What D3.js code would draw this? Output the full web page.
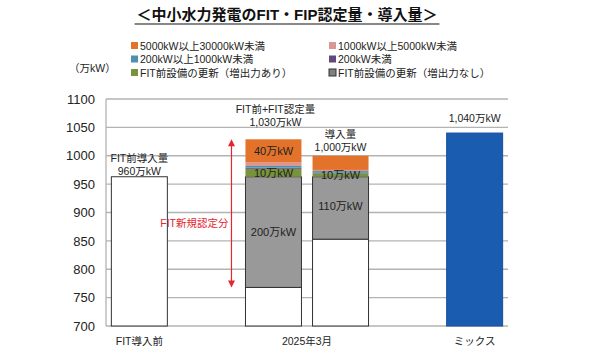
<!DOCTYPE html>
<html>
<head>
<meta charset="utf-8">
<script src="https://cdn.jsdelivr.net/npm/d3@7"></script>
<style>
  body { margin: 0; background: #fff; }
  svg { font-family: "Liberation Sans", "Noto Sans CJK JP", sans-serif; }
</style>
</head>
<body>
<svg id="chart" width="590" height="354"></svg>
<script>
// bar slots (empty ones are spacers so the 2025 pair sits together)
var slots = ["pre", "gapA", "cert", "intro", "gapB", "mix"];
var barSlots = ["pre", "cert", "intro", "mix"];

// stacked values per bar, in barSlots order (万kW)
var existing        = [963, 768, 853, 0];
var renewNoIncrease = [0, 195, 110, 0];
var renewIncrease   = [0, 14, 6, 0];
var under200        = [0, 2, 1, 0];
var from200to1000   = [0, 3, 3, 0];
var from1000to5000  = [0, 6, 2, 0];
var from5000to30000 = [0, 41, 25, 0];
var mixTarget       = [0, 0, 0, 1040];

var seriesKeys = ["existing", "renewNoIncrease", "renewIncrease", "under200",
                  "from200to1000", "from1000to5000", "from5000to30000", "mixTarget"];
var seriesColors = {
  existing: "#ffffff", renewNoIncrease: "#999999", renewIncrease: "#77933c",
  under200: "#604a7b", from200to1000: "#4f8fb0", from1000to5000: "#d99694",
  from5000to30000: "#e3732a", mixTarget: "#1a5cb0"
};

var legendItems = [
  { key: "from5000to30000", name: "5000kW以上30000kW未満" },
  { key: "from1000to5000",  name: "1000kW以上5000kW未満" },
  { key: "from200to1000",   name: "200kW以上1000kW未満" },
  { key: "under200",        name: "200kW未満" },
  { key: "renewIncrease",   name: "FIT前設備の更新（増出力あり）" },
  { key: "renewNoIncrease", name: "FIT前設備の更新（増出力なし）" }
];

var yTicks = [700, 750, 800, 850, 900, 950, 1000, 1050, 1100];
var groupLabels = ["FIT導入前", "2025年3月", "ミックス"];
var groupSlots = [["pre"], ["cert", "intro"], ["mix"]];

// labels sitting on segments: [slot, series, text]
var segmentLabels = [
  ["cert", "from5000to30000", "40万kW"],
  ["cert", "renewIncrease", "10万kW"],
  ["cert", "renewNoIncrease", "200万kW"],
  ["intro", "renewIncrease", "10万kW"],
  ["intro", "renewNoIncrease", "110万kW"]
];
// totals shown above bars
var totalLabels = [
  ["pre", ["FIT前導入量", "960万kW"]],
  ["cert", ["FIT前+FIT認定量", "1,030万kW"]],
  ["intro", ["導入量", "1,000万kW"]],
  ["mix", ["1,040万kW"]]
];

var rows = barSlots.map(function(s, i) {
  return {
    slot: s, existing: existing[i], renewNoIncrease: renewNoIncrease[i],
    renewIncrease: renewIncrease[i], under200: under200[i], from200to1000: from200to1000[i],
    from1000to5000: from1000to5000[i], from5000to30000: from5000to30000[i], mixTarget: mixTarget[i]
  };
});

var svg = d3.select("#chart");
var margin = { left: 106, right: 82, top: 99, bottom: 28 };
var width = 590 - margin.left - margin.right,
    height = 354 - margin.top - margin.bottom;

var x = d3.scaleBand().domain(slots).range([margin.left, margin.left + width]).paddingInner(0.165).paddingOuter(0.08);
var y = d3.scaleLinear().domain([700, 1100]).range([margin.top + height, margin.top]);

// title
var title = svg.append("text")
  .attr("x", 287).attr("y", 20)
  .attr("text-anchor", "middle")
  .style("font-size", "15px").style("font-weight", "bold").style("fill", "#111")
  .text("＜中小水力発電のFIT・FIP認定量・導入量＞");
var tb = title.node().getBBox();
svg.append("line")
  .attr("x1", tb.x - 2).attr("x2", tb.x + tb.width + 2)
  .attr("y1", 24).attr("y2", 24)
  .attr("stroke", "#111").attr("stroke-width", 1.2);

// legend
var legend = svg.append("g").attr("transform", "translate(131,42)");
legendItems.forEach(function(d, i) {
  var g = legend.append("g")
    .attr("transform", "translate(" + ((i % 2) * 198) + "," + (Math.floor(i / 2) * 13.5) + ")");
  g.append("rect")
    .attr("width", 7).attr("height", 7).attr("y", 0)
    .attr("fill", d.key == "renewNoIncrease" ? "#808080" : seriesColors[d.key])
    .attr("stroke", d.key == "renewNoIncrease" ? "#333" : "none");
  g.append("text")
    .attr("x", 9).attr("y", 7.5)
    .style("font-size", "10.5px").style("fill", "#222")
    .text(d.name);
});

svg.append("text")
  .attr("x", 69).attr("y", 72)
  .style("font-size", "10.5px").style("fill", "#222")
  .text("（万kW）");

// grid
svg.append("g").selectAll("line")
  .data(yTicks).enter().append("line")
  .attr("x1", margin.left).attr("x2", margin.left + width)
  .attr("y1", function(d) { return y(d); }).attr("y2", function(d) { return y(d); })
  .attr("stroke", "#b3b3b3").attr("stroke-width", 1.3);

svg.append("line")
  .attr("x1", margin.left).attr("x2", margin.left)
  .attr("y1", y(1100)).attr("y2", y(700))
  .attr("stroke", "#b3b3b3").attr("stroke-width", 1.3);

var yAxis = svg.append("g")
  .attr("transform", "translate(" + (margin.left - 2) + ",0)")
  .call(d3.axisLeft(y).tickValues(yTicks).tickSize(0).tickPadding(9).tickFormat(d3.format("d")));
yAxis.select(".domain").remove();
yAxis.selectAll("text").style("font-size", "13px").style("fill", "#222")
  .style("font-family", "'Liberation Sans', sans-serif");

// bars
var stacked = d3.stack().keys(seriesKeys)(rows);
var yFloor = function(v) { return y(Math.max(v, 700)); };

svg.append("g").selectAll("g")
  .data(stacked).enter().append("g")
  .each(function(series) {
    var key = series.key;
    d3.select(this).selectAll("rect")
      .data(series.filter(function(d) { return d[1] > d[0]; })).enter().append("rect")
      .attr("x", function(d) { return x(d.data.slot); })
      .attr("width", x.bandwidth())
      .attr("y", function(d) { return yFloor(d[1]); })
      .attr("height", function(d) { return yFloor(d[0]) - yFloor(d[1]); })
      .attr("fill", seriesColors[key])
      .attr("stroke", key == "existing" || key == "renewNoIncrease" ? "#333" :
                      key == "mixTarget" ? "#1850a0" : "none")
      .attr("stroke-width", 1);
  });

// segment labels
function segmentOf(slot, key) {
  var s = stacked.find(function(ss) { return ss.key == key; });
  return s.find(function(d) { return d.data.slot == slot; });
}
svg.append("g").selectAll("text")
  .data(segmentLabels).enter().append("text")
  .attr("x", function(d) { return x(d[0]) + x.bandwidth() / 2; })
  .attr("y", function(d) {
    var seg = segmentOf(d[0], d[1]);
    var mid = (yFloor(seg[0]) + yFloor(seg[1])) / 2;
    return d[2] == "110万kW" ? yFloor(seg[1]) + 33 : mid + 4;
  })
  .attr("text-anchor", "middle")
  .style("font-size", "11px").style("fill", "#222")
  .text(function(d) { return d[2]; });

// total labels, last line sits this far above the bar top
var totals = {};
rows.forEach(function(r) {
  totals[r.slot] = d3.sum(seriesKeys, function(k) { return r[k]; });
});
var offsets = { pre: 2, cert: 13, intro: 4.5, mix: 11 };
var lineGap = 13;
totalLabels.forEach(function(d) {
  var last = y(totals[d[0]]) - offsets[d[0]];
  var n = d[1].length;
  d[1].forEach(function(line, i) {
    svg.append("text")
      .attr("x", x(d[0]) + x.bandwidth() / 2 + (d[0] == "cert" ? 2 : 0))
      .attr("y", last - (n - 1 - i) * lineGap)
      .attr("text-anchor", "middle")
      .style("font-size", "10.5px").style("fill", "#222")
      .text(line);
  });
});

// red arrow for new FIT certifications
var arrowX = x("cert") - 14;
var certRow = rows[barSlots.indexOf("cert")];
var aTop = y(totals.cert), aBot = y(certRow.existing);
var red = "#e3262f";
svg.append("line")
  .attr("x1", arrowX).attr("x2", arrowX)
  .attr("y1", aTop + 4).attr("y2", aBot - 4)
  .attr("stroke", red).attr("stroke-width", 1.2);
svg.append("path")
  .attr("d", "M" + arrowX + "," + aTop + "l-3.5,7h7z")
  .attr("fill", red);
svg.append("path")
  .attr("d", "M" + arrowX + "," + aBot + "l-3.5,-7h7z")
  .attr("fill", red);
svg.append("text")
  .attr("x", arrowX - 3).attr("y", (aTop + aBot) / 2 + 14)
  .attr("text-anchor", "end")
  .style("font-size", "10.5px").style("fill", red)
  .text("FIT新規認定分");

// category labels
svg.append("g").selectAll("text")
  .data(groupLabels).enter().append("text")
  .attr("x", function(d, i) {
    var s = groupSlots[i];
    return (x(s[0]) + x(s[s.length - 1]) + x.bandwidth()) / 2;
  })
  .attr("y", 345)
  .attr("text-anchor", "middle")
  .style("font-size", "10.5px").style("fill", "#222")
  .text(function(d) { return d; });
</script>
</body>
</html>
